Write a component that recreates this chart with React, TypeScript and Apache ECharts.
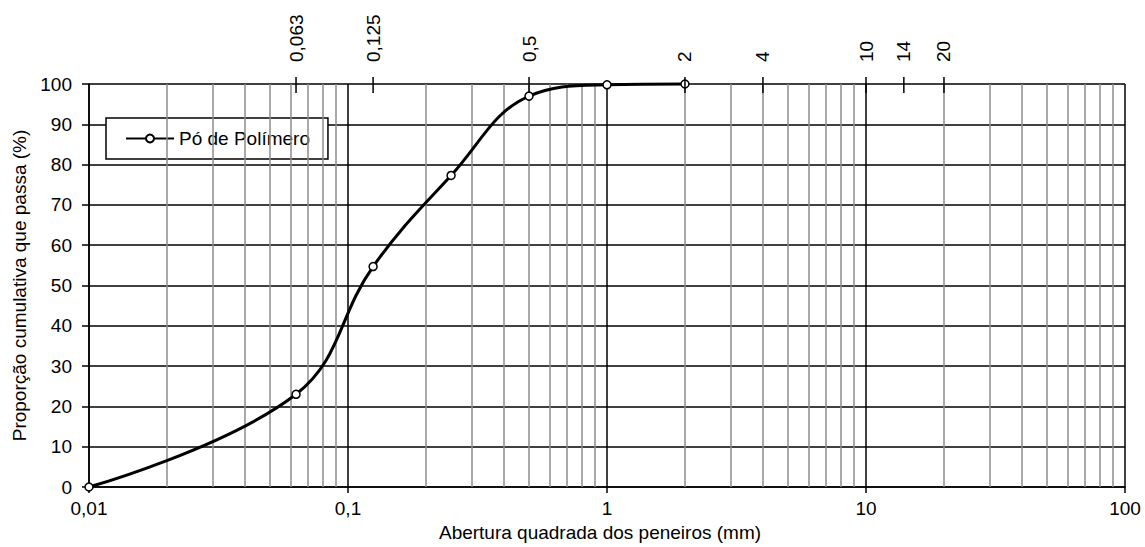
import React, { useEffect, useRef } from 'react';
import * as echarts from 'echarts';

// Data
const sieveSizes = [0.01, 0.063, 0.125, 0.25, 0.5, 1, 2];
const passingPct = [0, 23, 54.7, 77.3, 97, 99.8, 100];
const topSieves = [0.063, 0.125, 0.5, 2, 4, 10, 14, 20];
const seriesName = 'Pó de Polímero';
const xTitle = 'Abertura quadrada dos peneiros (mm)';
const yTitle = 'Proporção cumulativa que passa (%)';
const decades = [0.01, 0.1, 1, 10];
const minorSteps = [2, 3, 4, 5, 6, 7, 8, 9];

const FONT = '"Liberation Sans", Arial, sans-serif';
const fmt = (v: number) => String(Number(Number(v).toPrecision(6))).replace('.', ',');

export default function App() {
  const ref = useRef<HTMLDivElement>(null);
  useEffect(() => {
    const chart = echarts.init(ref.current!, null, { renderer: 'svg' });
    const minor = decades.flatMap((d) => minorSteps.map((m) => Number((d * m).toPrecision(6))));
    chart.setOption({
      animation: false,
      textStyle: { fontFamily: FONT, color: '#000' },
      grid: { left: 89, right: 20, top: 84, bottom: 60, containLabel: false, outerBoundsMode: 'none' },
      legend: {
        data: [seriesName],
        left: 106,
        top: 118,
        orient: 'horizontal',
        padding: [11, 18, 11, 19],
        backgroundColor: '#fff',
        borderColor: '#000',
        borderWidth: 1.5,
        borderRadius: 0,
        itemWidth: 48,
        itemHeight: 10,
        textStyle: { fontSize: 19, color: '#000', fontFamily: FONT },
      },
      xAxis: {
        type: 'log',
        logBase: 10,
        min: 0.01,
        max: 100,
        name: xTitle,
        nameLocation: 'middle',
        nameGap: 32,
        nameTextStyle: { fontSize: 19, color: '#000', fontFamily: FONT, padding: [0, 14, 0, 0] },
        axisLine: { show: true, onZero: false, lineStyle: { color: '#000', width: 1.5 } },
        axisTick: { show: true, length: 6, lineStyle: { color: '#000', width: 1.5 } },
        axisLabel: { fontSize: 19, color: '#000', margin: 12, formatter: (v: number) => fmt(v) },
        splitLine: { show: true, lineStyle: { color: '#000', width: 1.5 } },
        minorTick: { show: false },
        minorSplitLine: { show: false },
        z: 3,
      },
      yAxis: {
        type: 'value',
        min: 0,
        max: 100,
        interval: 10,
        name: yTitle,
        nameLocation: 'middle',
        nameGap: 56,
        nameTextStyle: { fontSize: 19, color: '#000', fontFamily: FONT },
        axisLine: { show: true, lineStyle: { color: '#000', width: 1.5 } },
        axisTick: { show: true, length: 7, lineStyle: { color: '#000', width: 1.5 } },
        axisLabel: { fontSize: 19, color: '#000', margin: 17 },
        splitLine: { show: true, lineStyle: { color: '#000', width: 1.5 } },
        z: 3,
      },
      series: [
        {
          name: 'minorGrid',
          type: 'line',
          data: [],
          silent: true,
          z: 1,
          markLine: {
            silent: true,
            symbol: ['none', 'none'],
            label: { show: false },
            emphasis: { disabled: true },
            lineStyle: { color: '#8c8c8c', width: 1.5, type: 'solid' },
            data: minor.map((v) => ({ xAxis: v })),
          },
        },
        {
          name: seriesName,
          type: 'line',
          data: sieveSizes.map((x, i) => [x, passingPct[i]]),
          smooth: 0.4,
          symbol: 'circle',
          symbolSize: 8,
          showAllSymbol: true,
          clip: false,
          z: 5,
          lineStyle: { color: '#000', width: 3 },
          itemStyle: { color: '#fff', borderColor: '#000', borderWidth: 1.5 },
        },
        {
          name: 'topTicks',
          type: 'custom',
          coordinateSystem: 'cartesian2d',
          clip: false,
          silent: true,
          z: 6,
          data: topSieves.map((v) => [v, 100]),
          renderItem: (params: any, api: any) => {
            const p = api.coord([api.value(0), api.value(1)]);
            const v = topSieves[params.dataIndex];
            return {
              type: 'group',
              children: [
                {
                  type: 'line',
                  shape: { x1: p[0], y1: p[1] - 7, x2: p[0], y2: p[1] + 9 },
                  style: { stroke: '#000', lineWidth: 1.5 },
                },
                {
                  type: 'text',
                  x: p[0],
                  y: p[1] - 22,
                  rotation: Math.PI / 2,
                  style: {
                    text: fmt(v),
                    fill: '#000',
                    fontSize: 19,
                    fontFamily: FONT,
                    align: 'left',
                    verticalAlign: 'middle',
                  },
                },
              ],
            };
          },
        },
      ],
    });
    return () => chart.dispose();
  }, []);
  return <div ref={ref} style={{ position: 'absolute', left: 0, top: 0, width: 1145, height: 547 }} />;
}
